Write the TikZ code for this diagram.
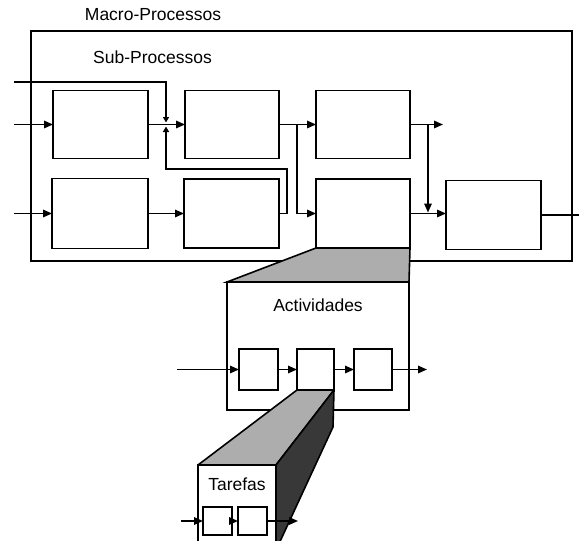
\documentclass[tikz,border=0pt]{standalone}
\usepackage{fontspec}
\setmainfont{Liberation Sans}
\usetikzlibrary{arrows.meta}
\definecolor{lightg}{gray}{0.68}
\definecolor{darkg}{gray}{0.22}
\begin{document}
\begin{tikzpicture}[x=1pt,y=-1pt,line width=1.6pt,
  box/.style={draw,rectangle,inner sep=0pt,outer sep=0pt,fill=white},
  arr/.style={-{Triangle[length=9pt,width=7.5pt]}},
  sarr/.style={-{Triangle[length=5.5pt,width=6pt]}},
  lbl/.style={font=\fontsize{17.5}{20}\selectfont,inner sep=0pt}]
\useasboundingbox (0,0) rectangle (579,541);
\begin{scope}
\clip (0,0) rectangle (579,541);
% macro
\node[lbl] (tmacro) at (153,15) {Macro-Processos};
\node[draw,rectangle,inner sep=0pt,outer sep=0pt,minimum width=541pt,minimum height=230pt] (macro) at (301.5,146) {};
\node[lbl] (tsub) at (152.5,57) {Sub-Processos};
% sub-process boxes
\node[box,minimum width=95pt,minimum height=68pt] (b1) at (100.5,124.5) {};
\node[box,minimum width=94pt,minimum height=68pt] (b2) at (232,124.5) {};
\node[box,minimum width=96pt,minimum height=70pt] (b3) at (100,213.5) {};
\node[box,minimum width=95pt,minimum height=69pt] (b4) at (231.5,213.5) {};
\node[box,minimum width=94pt,minimum height=68pt] (b5) at (363,124.5) {};
\node[box,minimum width=94pt,minimum height=69pt] (b6) at (363,213.5) {};
\node[box,minimum width=95pt,minimum height=69pt] (b7) at (493.5,215) {};
% connectors
\coordinate (in0) at (14,82);
\coordinate (in1) at (14,124.5);
\coordinate (in2) at (14,213.5);
\coordinate (jt) at (166,122.5);
\coordinate (jb) at (166,126.5);
\coordinate (s1) at (297,124.5);
\coordinate (s2) at (428,124.5);
\coordinate (o5) at (443,124.5);
\coordinate (o7) at (579,215);
\draw[arr] (in1) -- (b1.west);
\draw[arr] (in2) -- (b3.west);
\draw[sarr] (in0) -- (166,82) -- (jt);
\draw[arr] (b1.east) -- (b2.west);
\draw[arr] (b3.east) -- (b4.west);
\draw[sarr] (b4.east) -- (287,213.5) -- (287,169) -- (166,169) -- (jb);
\draw[arr] (b2.east) -- (b5.west);
\draw[arr] (s1) -- (297,213.5) -- (b6.west);
\draw[arr] (b5.east) -- (o5);
\draw[arr] (s2) -- (428,212.5);
\draw[arr] (b6.east) -- (b6.east -| b7.west);
\draw (b7.east) -- (o7);
% activities
\node[box,minimum width=182pt,minimum height=128pt] (act) at (318,346) {};
\draw[fill=lightg] (b6.south west) -- (b6.south east) -- (act.north east) -- (act.north west) -- cycle;
\node[lbl] (tact) at (318,305) {Actividades};
\node[box,minimum width=39pt,minimum height=41pt] (a1) at (258.5,369.5) {};
\node[box,minimum width=37pt,minimum height=41pt] (a2) at (315.5,369.5) {};
\node[box,minimum width=38pt,minimum height=41pt] (a3) at (373,369.5) {};
\coordinate (ain) at (177,369.5);
\coordinate (aout) at (427,369.5);
\draw[arr] (ain) -- (a1.west);
\draw[arr] (a1.east) -- (a2.west);
\draw[arr] (a2.east) -- (a3.west);
\draw[arr] (a3.east) -- (aout);
% prism
\draw[fill=lightg,line join=round] (a2.south west) -- (a2.south east) -- (276,465) -- (198,465) -- cycle;
\draw[fill=darkg,line join=round] (a2.south east) -- (333,427) -- (277,548) -- (276,548) -- (276,465) -- cycle;
\fill[white] (198,465) rectangle (276,548);
\draw (198,548) -- (198,465) -- (276,465) -- (276,548);
\node[lbl] (ttar) at (237,484) {Tarefas};
\node[box,minimum width=29pt,minimum height=28pt] (t1) at (217.5,521) {};
\node[box,minimum width=29pt,minimum height=28pt] (t2) at (252.5,521) {};
\coordinate (tin) at (181,521);
\coordinate (tout) at (298,521);
\draw[arr] (tin) -- (t1.west);
\draw[arr] (t1.east) -- (t2.west);
\draw[arr] (t2.east) -- (tout);
\end{scope}
\end{tikzpicture}
\end{document}
